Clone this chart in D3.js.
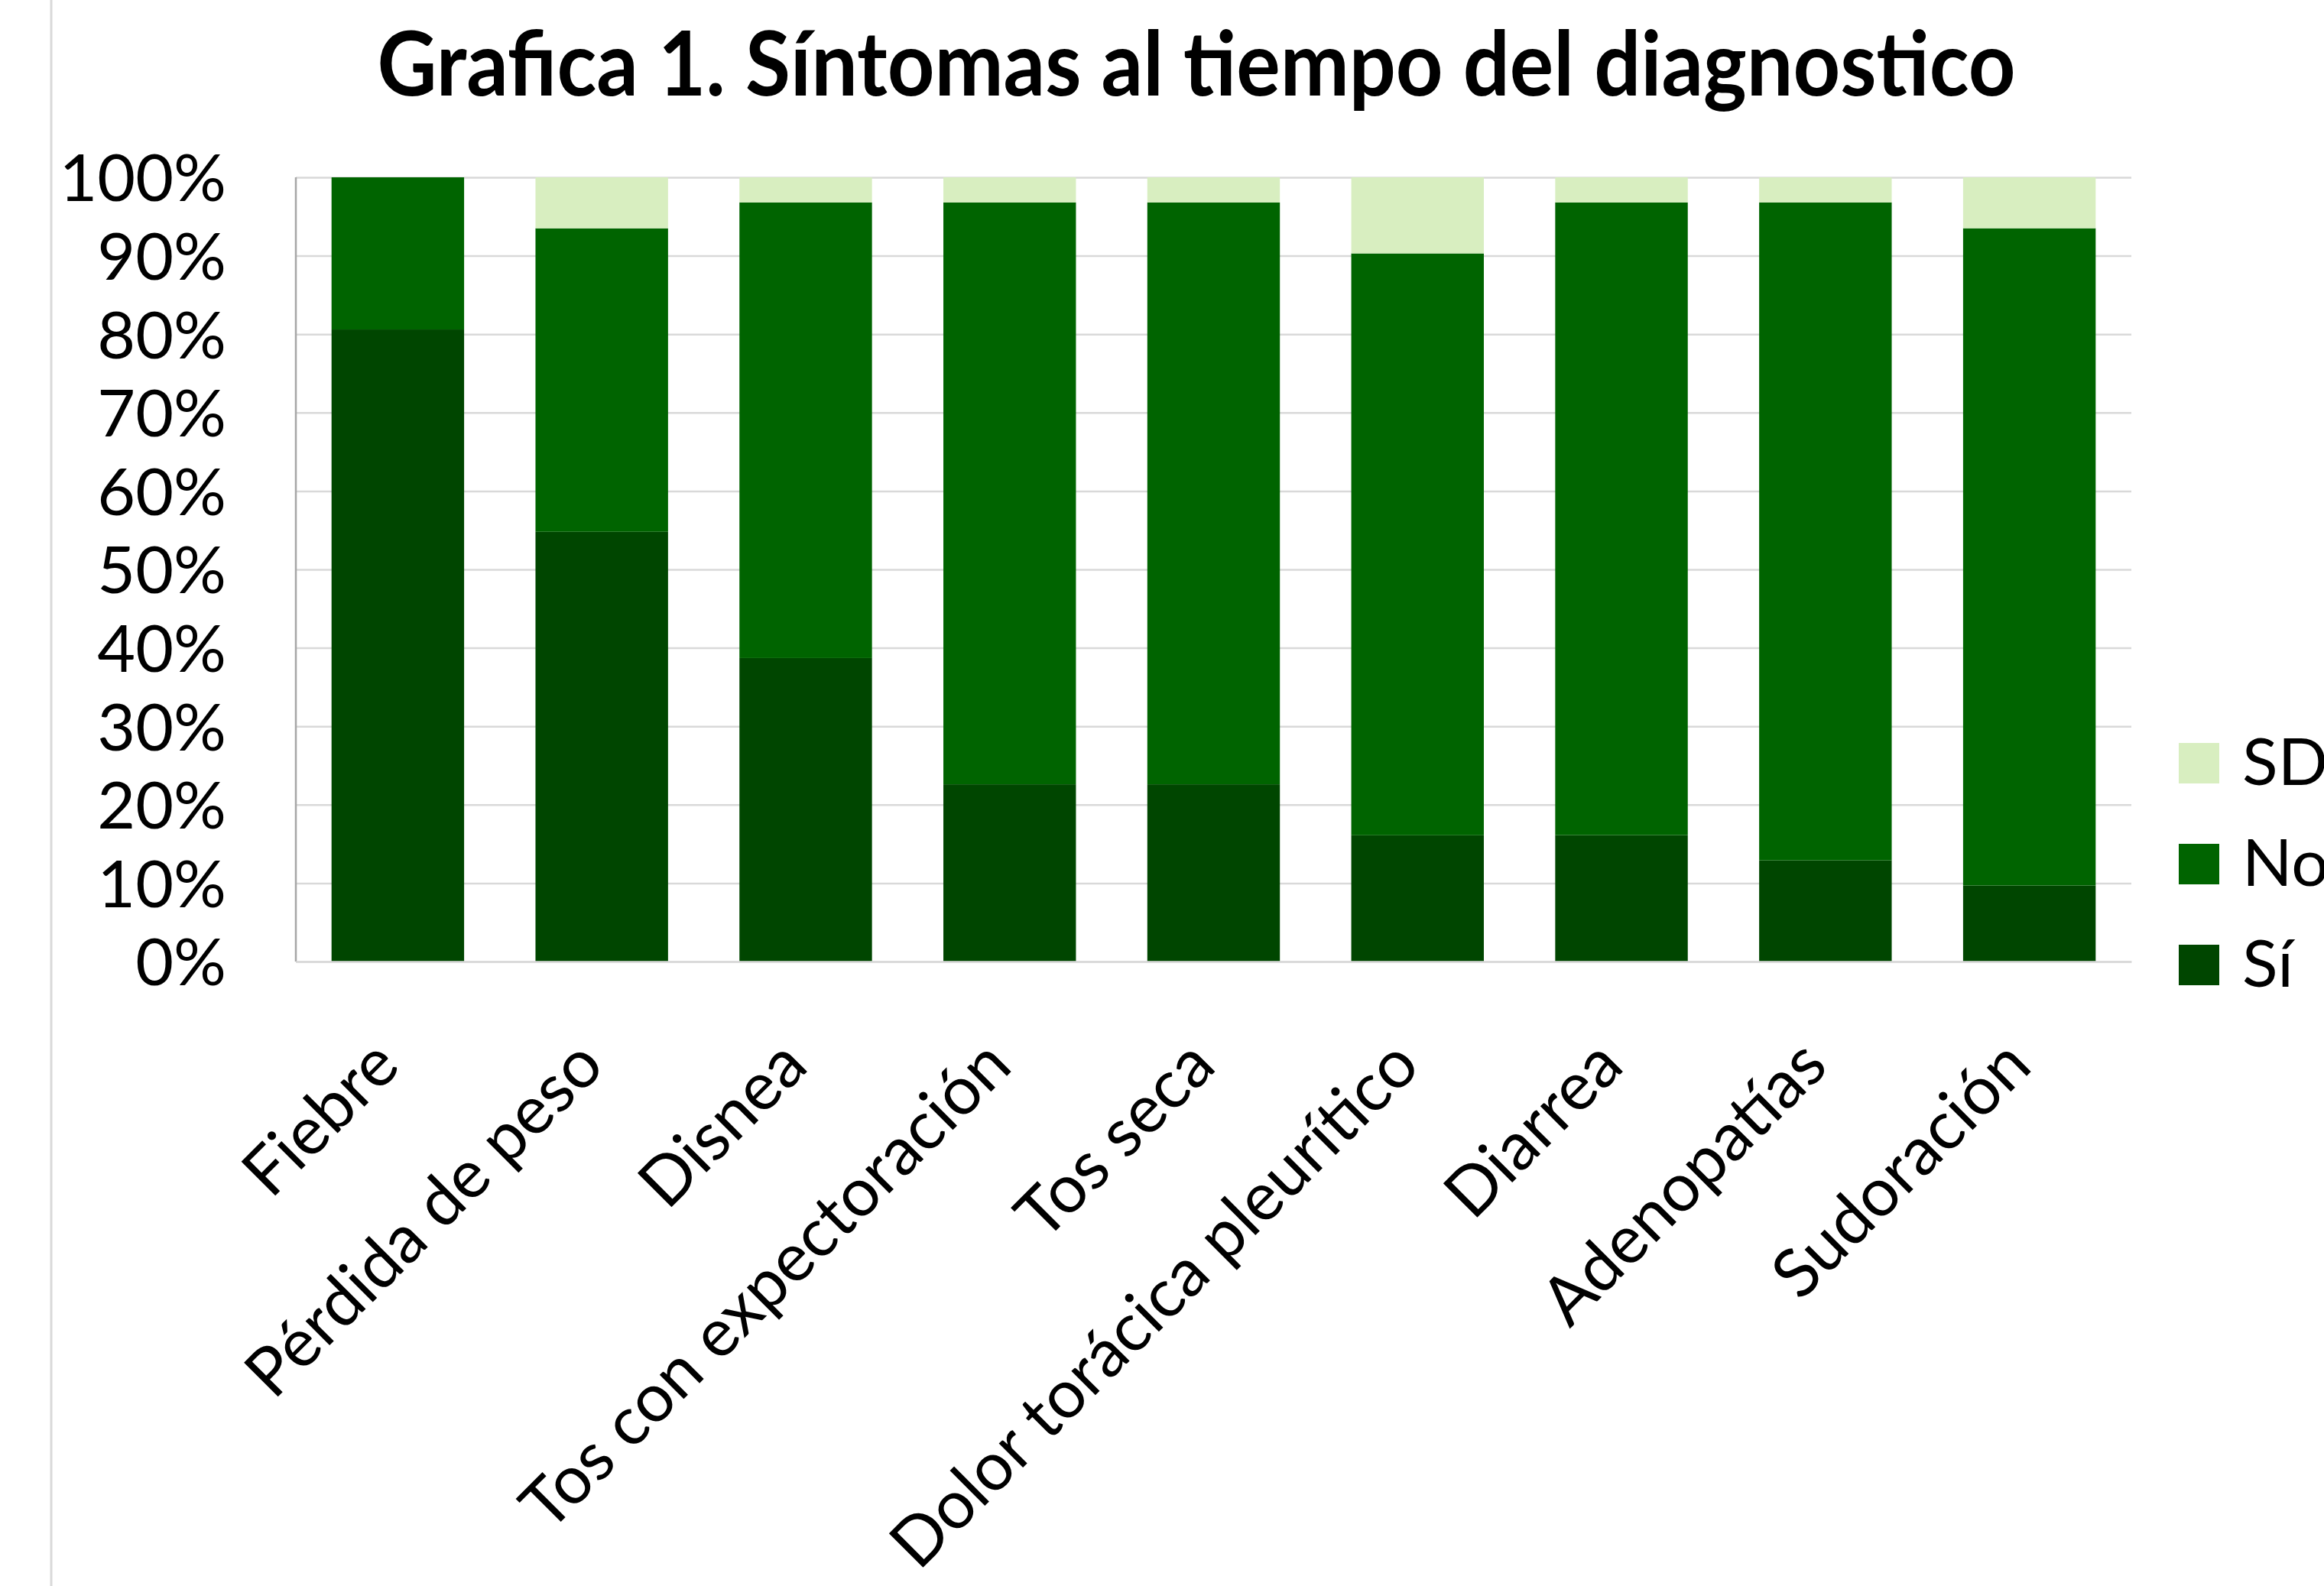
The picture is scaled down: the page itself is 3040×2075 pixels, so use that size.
<!DOCTYPE html>
<html>
<head>
<meta charset="utf-8">
<script src="https://cdn.jsdelivr.net/npm/d3@7"></script>
<style>
  html, body { margin: 0; padding: 0; background: #fff; }
  svg { display: block; }
  text { font-family: Lato, "Open Sans", sans-serif; fill: #000; }
</style>
</head>
<body>
<svg id="chart" width="3040" height="2075"></svg>
<script>
// ---- data ----
const titleText = "Grafica 1. Síntomas al tiempo del diagnostico";
const categories = ["Fiebre", "Pérdida de peso", "Disnea", "Tos con expectoración", "Tos seca",
  "Dolor torácica pleurítico", "Diarrea", "Adenopatías", "Sudoración"];
const seriesNames = ["Sí", "No", "SD"];           // stacking order, bottom to top
const siValues = [80.6, 54.8, 38.7, 22.6, 22.6, 16.1, 16.1, 12.9, 9.7];
const noValues = [19.4, 38.7, 58.1, 74.2, 74.2, 74.2, 80.6, 83.9, 83.9];
const sdValues = [0, 6.5, 3.2, 3.2, 3.2, 9.7, 3.2, 3.2, 6.5];
const yTicks = [0, 10, 20, 30, 40, 50, 60, 70, 80, 90, 100];
const legendOrder = ["SD", "No", "Sí"];

// ---- layout ----
const W = 3040, H = 2075;
const plot = { left: 387, right: 2788, top: 232, bottom: 1258 };
const colors = { "Sí": "#004600", "No": "#006400", "SD": "#d8eec0" };

const svg = d3.select("#chart");
svg.append("rect").attr("width", W).attr("height", H).attr("fill", "#fff");

// left frame line
svg.append("line").attr("x1", 67).attr("x2", 67).attr("y1", 0).attr("y2", H)
  .attr("stroke", "#d9d9d9").attr("stroke-width", 3);

const table = categories.map((c, i) => ({ cat: c, "Sí": siValues[i], "No": noValues[i], "SD": sdValues[i] }));
const stacked = d3.stack().keys(seriesNames).offset(d3.stackOffsetExpand)(table);

const x = d3.scaleBand().domain(categories).range([plot.left, plot.right]).paddingInner(0.35).paddingOuter(0.175);
const y = d3.scaleLinear().domain([0, 1]).range([plot.bottom, plot.top]);

// gridlines + y tick labels
const yAxis = d3.axisLeft(y).tickValues(yTicks.map(v => v / 100))
  .tickSize(-(plot.right - plot.left)).tickPadding(91).tickFormat(v => Math.round(v * 100) + "%");
const gy = svg.append("g").attr("transform", `translate(${plot.left},0)`).call(yAxis);
gy.select(".domain").remove();
gy.selectAll(".tick line").attr("stroke", "#d9d9d9").attr("stroke-width", 2.5);
gy.selectAll(".tick text").attr("font-size", 86).attr("dy", "0.36em").style("font-family", "Lato");

// bars
svg.append("g").selectAll("g").data(stacked).join("g")
  .attr("fill", d => colors[d.key])
  .selectAll("rect").data(d => d).join("rect")
  .attr("x", d => x(d.data.cat))
  .attr("width", x.bandwidth())
  .attr("y", d => y(d[1]))
  .attr("height", d => y(d[0]) - y(d[1]));

// vertical axis line
svg.append("line").attr("x1", plot.left).attr("x2", plot.left).attr("y1", plot.top).attr("y2", plot.bottom)
  .attr("stroke", "#a6a6a6").attr("stroke-width", 2.5);

// x axis labels
const xAxis = d3.axisBottom(x).tickSize(0).tickPadding(0);
const gx = svg.append("g").attr("transform", `translate(0,${plot.bottom})`).call(xAxis);
gx.select(".domain").attr("stroke", "#d9d9d9").attr("stroke-width", 2.5);
gx.selectAll(".tick text")
  .attr("font-size", 88)
  .style("font-family", "Lato")
  .attr("text-anchor", "end")
  .attr("x", 0).attr("y", 0).attr("dy", 0)
  .attr("transform", "translate(6,140) rotate(-45)");

// title
svg.append("text").attr("x", 1565).attr("y", 125).attr("text-anchor", "middle")
  .attr("font-size", 116).attr("font-weight", 700)
  .attr("textLength", 2143).attr("lengthAdjust", "spacingAndGlyphs")
  .text(titleText);

// legend
const lg = svg.append("g").attr("transform", "translate(2850,972)");
const li = lg.selectAll("g").data(legendOrder).join("g").attr("transform", (d, i) => `translate(0,${i * 132})`);
li.append("rect").attr("width", 53).attr("height", 53).attr("fill", d => colors[d]);
li.append("text").attr("x", 83).attr("y", 55).attr("font-size", 86).text(d => d);
</script>
</body>
</html>
